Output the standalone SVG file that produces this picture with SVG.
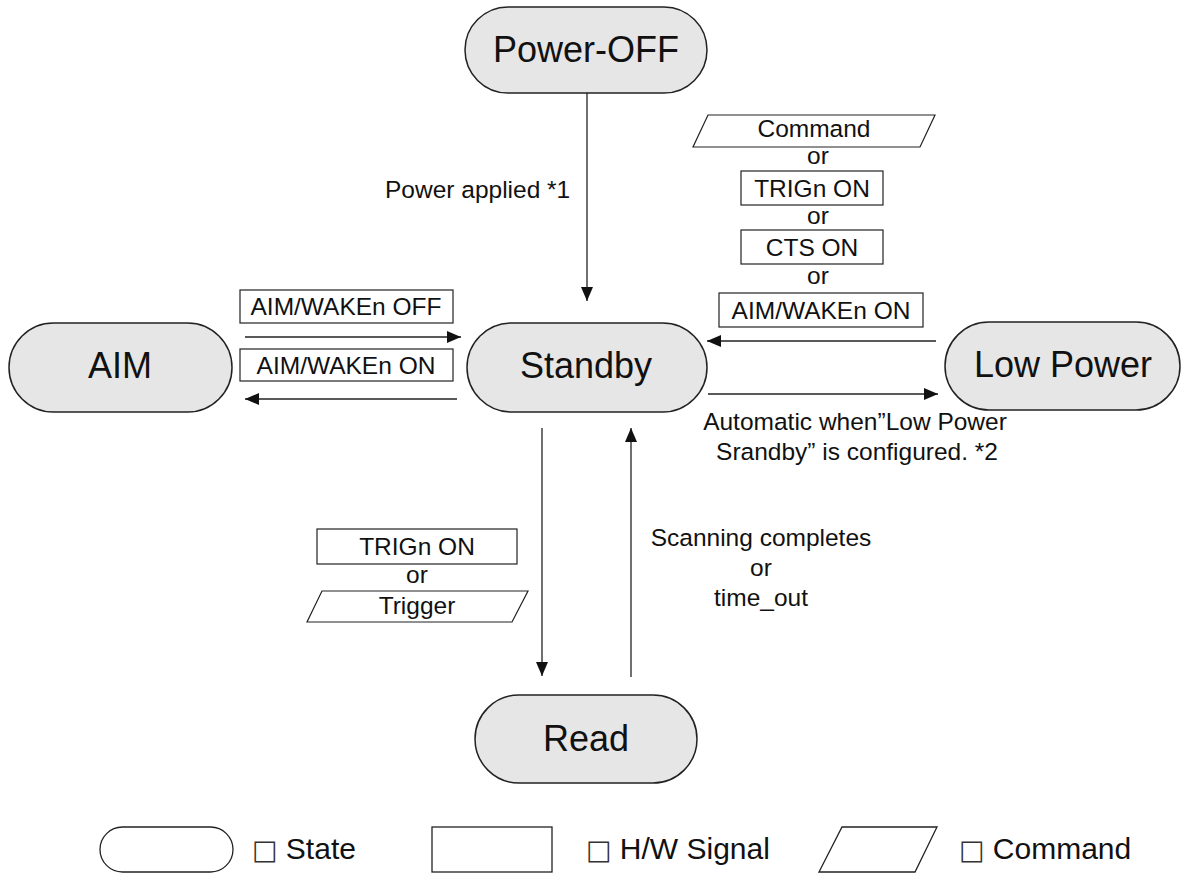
<svg xmlns="http://www.w3.org/2000/svg" width="1182" height="873" viewBox="0 0 1182 873">
<defs>
<style>
.state{fill:#e6e6e6;stroke:#222;stroke-width:1.5}
.legend{fill:#fff;stroke:#222;stroke-width:1.3}
.box{fill:#fff;stroke:#222;stroke-width:1.2}
.st{font-family:"Liberation Sans",Arial,sans-serif;font-size:36px;fill:#111;text-anchor:middle}
.lb{font-family:"Liberation Sans",Arial,sans-serif;font-size:24.5px;fill:#111;text-anchor:middle}
.lbs{font-family:"Liberation Sans",Arial,sans-serif;font-size:24.5px;fill:#111}
.lg{font-family:"Liberation Sans",Arial,sans-serif;font-size:30px;fill:#111}
.tofu{font-family:"DejaVu Sans",sans-serif;font-size:27px;fill:#333}
.conn{stroke:#222;stroke-width:1.3;fill:none;marker-end:url(#ah)}
</style>
<marker id="ah" viewBox="0 0 14 12" refX="14" refY="6" markerWidth="14" markerHeight="12" markerUnits="userSpaceOnUse" orient="auto">
<path d="M0,0 L14,6 L0,12 z" fill="#111"/>
</marker>
</defs>
<rect width="1182" height="873" fill="#fff"/>

<g id="connectors">
<line class="conn" x1="587" y1="93" x2="587" y2="301"/>
<line class="conn" x1="245" y1="337" x2="461" y2="337"/>
<line class="conn" x1="457" y1="399" x2="245" y2="399"/>
<line class="conn" x1="936" y1="341" x2="707" y2="341"/>
<line class="conn" x1="708" y1="394" x2="938" y2="394"/>
<line class="conn" x1="542" y1="428" x2="542" y2="676"/>
<line class="conn" x1="631" y1="677" x2="631" y2="428"/>
</g>

<g id="node-power-off">
<rect class="state" x="465" y="7" width="242" height="86" rx="43" ry="43"/>
<text class="st" x="586" y="62">Power-OFF</text>
</g>
<g id="node-aim">
<rect class="state" x="9" y="323" width="223" height="89" rx="44.5" ry="44.5"/>
<text class="st" x="120" y="378">AIM</text>
</g>
<g id="node-standby">
<rect class="state" x="467" y="323" width="240" height="89" rx="44.5" ry="44.5"/>
<text class="st" x="586" y="378">Standby</text>
</g>
<g id="node-low-power">
<rect class="state" x="945" y="322" width="235" height="88" rx="44" ry="44"/>
<text class="st" x="1063" y="377">Low Power</text>
</g>
<g id="node-read">
<rect class="state" x="475" y="695" width="222" height="88" rx="44" ry="44"/>
<text class="st" x="586" y="751">Read</text>
</g>

<g id="label-power">
<text class="lbs" x="385" y="198">Power applied *1</text>
</g>

<g id="label-aim-off">
<rect class="box" x="240" y="290" width="213" height="33"/>
<text class="lb" x="346" y="315">AIM/WAKEn OFF</text>
</g>
<g id="label-aim-on">
<rect class="box" x="240" y="349" width="213" height="32"/>
<text class="lb" x="346" y="374">AIM/WAKEn ON</text>
</g>

<g id="label-wake">
<polygon class="box" points="708,115 935,115 920,147 693,147"/>
<text class="lb" x="814" y="137">Command</text>
<text class="lb" x="818" y="164">or</text>
<rect class="box" x="741" y="171" width="142" height="34"/>
<text class="lb" x="812" y="197">TRIGn ON</text>
<text class="lb" x="818" y="224">or</text>
<rect class="box" x="741" y="230" width="142" height="34"/>
<text class="lb" x="812" y="256">CTS ON</text>
<text class="lb" x="818" y="284">or</text>
<rect class="box" x="719" y="293" width="204" height="34"/>
<text class="lb" x="821" y="319">AIM/WAKEn ON</text>
</g>

<g id="label-auto">
<text class="lb" x="855" y="430">Automatic when”Low Power</text>
<text class="lb" x="857" y="460">Srandby” is configured.  *2</text>
</g>

<g id="label-trigger">
<rect class="box" x="317" y="529" width="200" height="35"/>
<text class="lb" x="417" y="555">TRIGn ON</text>
<text class="lb" x="417" y="583">or</text>
<polygon class="box" points="322,591 528,591 512,622 307,622"/>
<text class="lb" x="417" y="614">Trigger</text>
</g>

<g id="label-scan">
<text class="lb" x="761" y="546">Scanning completes</text>
<text class="lb" x="761" y="576">or</text>
<text class="lb" x="761" y="606">time_out</text>
</g>

<g id="legend">
<rect class="legend" x="100" y="827" width="133" height="45" rx="22.5" ry="22.5"/>
<text class="lg" x="252" y="859"><tspan class="tofu">□</tspan> State</text>
<rect class="legend" x="432" y="827" width="120" height="45"/>
<text class="lg" x="586" y="859"><tspan class="tofu">□</tspan> H/W Signal</text>
<polygon class="legend" points="842,827 937,827 915,872 819,872"/>
<text class="lg" x="959" y="859"><tspan class="tofu">□</tspan> Command</text>
</g>
</svg>
